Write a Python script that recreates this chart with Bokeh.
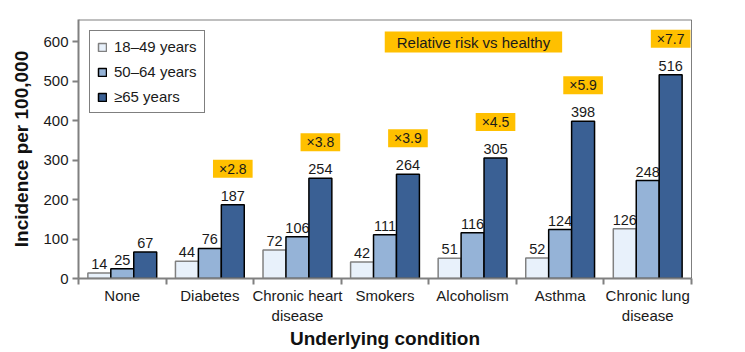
import numpy as np
from bokeh.plotting import figure
from bokeh.models import ColumnDataSource, Range1d, FixedTicker, Span, Legend
from bokeh.transform import dodge
from bokeh.core.properties import value
from bokeh.embed import file_html
from bokeh.resources import INLINE

conditions = ["None", "Diabetes", "Chronic heart\ndisease", "Smokers",
              "Alcoholism", "Asthma", "Chronic lung\ndisease"]
age_groups = ["18\u201349 years", "50\u201364 years", "\u226565 years"]
inc_18_49 = [14, 44, 72, 42, 51, 52, 126]
inc_50_64 = [25, 76, 106, 111, 116, 124, 248]
inc_65 = [67, 187, 254, 264, 305, 398, 516]
rel_risk = ["", "\u00d72.8", "\u00d73.8", "\u00d73.9", "\u00d74.5", "\u00d75.9", "\u00d77.7"]
y_ticks = [0, 100, 200, 300, 400, 500, 600]

FONT = "Liberation Sans"
colors = ["#E8F1FB", "#95B3D7", "#3A6094"]
outlines = ["#808080", "#000000", "#000000"]

xc = np.arange(len(conditions)) + 0.5
src = ColumnDataSource(dict(
    x=xc, a=inc_18_49, b=inc_50_64, c=inc_65,
    la=[str(v) for v in inc_18_49], lb=[str(v) for v in inc_50_64],
    lc=[str(v) for v in inc_65], rr=rel_risk,
))

p = figure(width=745, height=352, output_backend="svg", toolbar_location=None,
           x_range=Range1d(0, 7), y_range=Range1d(0, 656),
           min_border_left=78, min_border_right=54, min_border_top=19,
           min_border_bottom=74)
p.outline_line_color = None
p.grid.visible = False
p.background_fill_color = "white"

off = 0.262
bw = 0.262
cols = ["a", "b", "c"]
labs = ["la", "lb", "lc"]
rends = []
for i, (col, lab) in enumerate(zip(cols, labs)):
    d = (i - 1) * off
    r = p.vbar(x=dodge("x", d, range=p.x_range), top=col, width=bw, source=src,
               fill_color=colors[i], line_color=outlines[i], line_width=1.5)
    rends.append(r)
    p.text(x=dodge("x", d, range=p.x_range), y=col, text=lab, source=src,
           text_font=value(FONT), text_font_size="14.5px", text_color="#1a1a1a",
           text_align="center", text_baseline="bottom", y_offset=-4)

# relative risk boxes
rr_src = ColumnDataSource(dict(x=xc[1:], y=inc_65[1:], t=rel_risk[1:]))
p.text(x=dodge("x", off, range=p.x_range), y="y", text="t", source=rr_src,
       text_font=value(FONT), text_font_size="14px", text_color="#1a1a1a",
       text_align="center", text_baseline="middle", y_offset=-36,
       background_fill_color="#FFC000", padding=dict(x=6, y=1))

p.text(x=[4.51], y=[599], text=["Relative risk vs healthy"],
       text_font=value(FONT), text_font_size="15px", text_color="#1a1a1a",
       text_align="center", text_baseline="middle",
       background_fill_color="#FFC000", padding=dict(x=12, y=2))

p.add_layout(Span(location=656, dimension="width", line_color="#808080", line_width=2))
p.add_layout(Span(location=7, dimension="height", line_color="black", line_width=1))

legend = Legend(items=[(age_groups[i], [rends[i]]) for i in range(3)],
                location="top_left", margin=11, padding=7, spacing=8,
                label_height=14, glyph_height=10, glyph_width=10,
                label_standoff=7, label_text_font=FONT, label_text_font_size="15px",
                label_text_color="#1a1a1a", border_line_color="black",
                border_line_width=1.2, background_fill_alpha=1)
p.add_layout(legend)

# axes
yax = p.yaxis[0]
yax.ticker = FixedTicker(ticks=y_ticks)
yax.axis_label = "Incidence per 100,000"
yax.axis_label_text_font = FONT
yax.axis_label_text_font_style = "bold"
yax.axis_label_text_font_size = "19px"
yax.axis_label_text_color = "#111111"
yax.axis_label_standoff = 8
yax.major_label_text_font = FONT
yax.major_label_text_font_size = "15px"
yax.major_label_text_color = "#1a1a1a"
yax.axis_line_color = "#808080"
yax.axis_line_width = 2
yax.major_tick_line_color = "#808080"
yax.major_tick_line_width = 2
yax.major_tick_out = 6
yax.major_tick_in = 0
yax.minor_tick_line_color = None
yax.major_label_standoff = 4

xax = p.xaxis[0]
xax.ticker = FixedTicker(ticks=list(xc), minor_ticks=list(range(len(conditions) + 1)))
xax.major_label_overrides = {float(x): c for x, c in zip(xc, conditions)}
xax.axis_label = "Underlying condition"
xax.axis_label_text_font = FONT
xax.axis_label_text_font_style = "bold"
xax.axis_label_text_font_size = "19px"
xax.axis_label_text_color = "#111111"
xax.axis_label_standoff = 1
xax.major_label_text_font = FONT
xax.major_label_text_font_size = "15px"
xax.major_label_text_color = "#1a1a1a"
xax.axis_line_color = "#808080"
xax.axis_line_width = 2
xax.major_tick_line_color = None
xax.major_tick_out = 0
xax.major_tick_in = 0
xax.minor_tick_line_color = "#808080"
xax.minor_tick_line_width = 2
xax.minor_tick_out = 6
xax.minor_tick_in = 0
xax.major_label_standoff = 2

open("out.html", "w").write(file_html(p, INLINE))
